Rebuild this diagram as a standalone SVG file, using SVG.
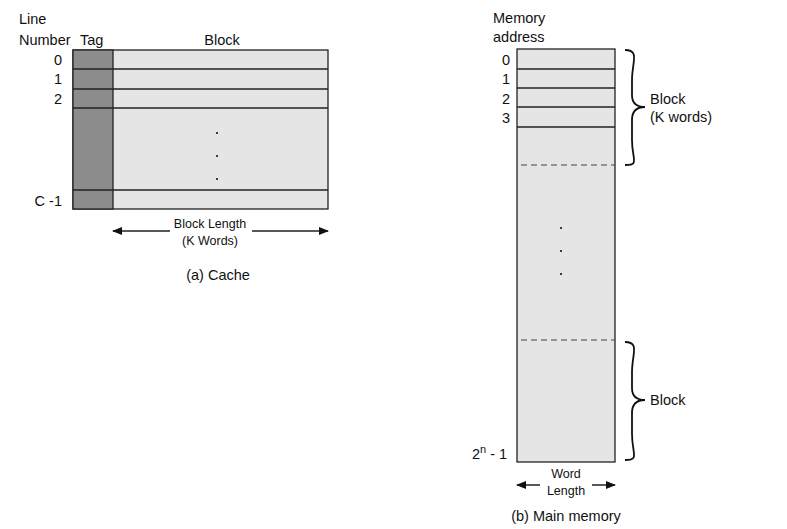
<svg xmlns="http://www.w3.org/2000/svg" width="787" height="529" viewBox="0 0 787 529">
<style>
text{font-family:"Liberation Sans",Arial,sans-serif;font-size:14.5px;fill:#111}
.s{font-size:12.5px}
.r{text-anchor:end}.m{text-anchor:middle}
.ln{stroke:#222;stroke-width:1.3;fill:none}
.d{stroke:#444;stroke-width:1.2;stroke-dasharray:6,4}
.br{stroke:#111;stroke-width:1.8;fill:none}
</style>
<defs><marker id="a" markerWidth="10" markerHeight="8" refX="9" refY="4" orient="auto-start-reverse" markerUnits="userSpaceOnUse"><path d="M0,0L10,4L0,8z" fill="#111"/></marker></defs>
<rect width="787" height="529" fill="#fff"/>
<g id="cache">
<rect x="73" y="50" width="255" height="159" fill="#e5e5e5" stroke="#222" stroke-width="1.3"/>
<rect x="73" y="50" width="40" height="159" fill="#8c8c8c" stroke="#222" stroke-width="1.3"/>
<path class="ln" d="M73,69H328M73,89H328M73,108H328M73,190H328"/>
<circle cx="217" cy="133" r="1.1" fill="#111"/><circle cx="217" cy="156" r="1.1" fill="#111"/><circle cx="217" cy="179" r="1.1" fill="#111"/>
<text x="19" y="24">Line</text><text x="19" y="45">Number</text><text x="80" y="45">Tag</text><text x="222" y="45" class="m">Block</text>
<text x="62" y="65" class="r">0</text><text x="62" y="84" class="r">1</text><text x="62" y="104" class="r">2</text><text x="62" y="206" class="r">C -1</text>
<text x="210" y="228" class="m s">Block Length</text><text x="210" y="245" class="m s">(K Words)</text>
<text x="218" y="280" class="m">(a) Cache</text>
</g>
<g id="memory">
<rect x="517" y="49" width="98" height="413" fill="#e5e5e5" stroke="#222" stroke-width="1.3"/>
<path class="ln" d="M517,69H615M517,88H615M517,107H615M517,127H615"/>
<path class="d" d="M521,165H615M521,340H615"/>
<circle cx="561" cy="228" r="1.1" fill="#111"/><circle cx="561" cy="251" r="1.1" fill="#111"/><circle cx="561" cy="274" r="1.1" fill="#111"/>
<text x="493" y="23">Memory</text><text x="493" y="42">address</text>
<text x="510" y="65" class="r">0</text><text x="510" y="84" class="r">1</text><text x="510" y="104" class="r">2</text><text x="510" y="123" class="r">3</text>
<text x="472" y="459">2<tspan dy="-6" font-size="11">n</tspan><tspan dy="6"> - 1</tspan></text>
<path class="br" d="M625,50C640,50 632,62 632,80V95C632,104 638,107 645,107C638,107 632,110 632,120V140C632,160 640,165 625,165"/>
<path class="br" d="M625,342C640,342 632,354 632,372V388C632,397 638,400 645,400C638,400 632,403 632,413V434C632,454 640,460 625,460"/>
<text x="650" y="104">Block</text><text x="650" y="122">(K words)</text><text x="650" y="405">Block</text>
<text x="566" y="478" class="m s">Word</text><text x="566" y="495" class="m s">Length</text>
<text x="566" y="521" class="m">(b) Main memory</text>
</g>
<g id="connectors">
<path class="ln" d="M113,231H170M252,231H328" marker-start="url(#a)" marker-end="url(#a)" stroke="#111"/>
<path class="ln" d="M517,485H540M592,485H615" marker-start="url(#a)" marker-end="url(#a)" stroke="#111"/>
</g>
</svg>
